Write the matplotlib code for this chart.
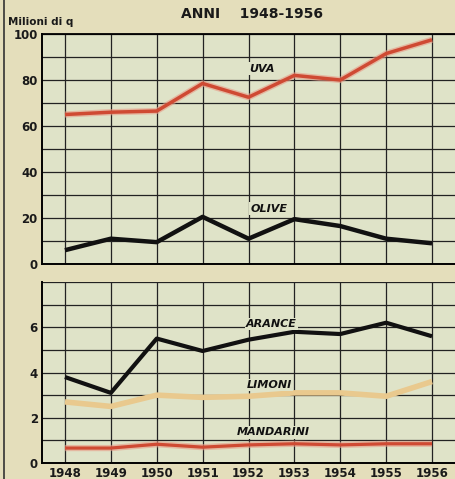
import matplotlib.pyplot as plt
from matplotlib.lines import Line2D

# Dati (milioni di quintali)
anni = [1948, 1949, 1950, 1951, 1952, 1953, 1954, 1955, 1956]
uva = [65, 66, 66.5, 78.5, 72.5, 82, 80, 91.5, 97.5]
olive = [6, 11, 9.5, 20.5, 11, 19.5, 16.5, 11, 9]
arance = [3.8, 3.1, 5.5, 4.95, 5.45, 5.8, 5.7, 6.2, 5.6]
limoni = [2.7, 2.5, 3.0, 2.9, 2.95, 3.1, 3.1, 2.95, 3.6]
mandarini = [0.66, 0.66, 0.83, 0.7, 0.8, 0.85, 0.8, 0.85, 0.85]

sfondo = '#e4debb'
carta = '#dfe3c8'

fig = plt.figure(figsize=(4.55, 4.79), dpi=100, facecolor=sfondo)
ax1 = fig.add_axes([42 / 455, 1 - 264 / 479, 1 - 42 / 455, 230 / 479])
ax2 = fig.add_axes([42 / 455, 1 - 463 / 479, 1 - 42 / 455, 181 / 479])

for ax in (ax1, ax2):
    ax.set_facecolor(carta)
    ax.set_xlim(1947.5, 1956.5)
    ax.set_xticks(anni)
    ax.grid(True, which='both', color='#222222', linewidth=0.9)
    ax.set_axisbelow(True)
    ax.tick_params(length=0, pad=3)
    for lato in ('top', 'right'):
        ax.spines[lato].set_visible(False)
    ax.spines['left'].set_linewidth(1.4)
    ax.spines['bottom'].set_linewidth(1.4)

ax1.set_ylim(0, 100)
ax1.set_yticks([0, 20, 40, 60, 80, 100])
ax1.set_yticks(range(10, 100, 20), minor=True)
ax1.tick_params(which='minor', length=0)
ax1.set_xticklabels([])
ax1.spines['top'].set_visible(True)
ax1.spines['top'].set_linewidth(1.3)

ax2.set_ylim(0, 8)
ax2.set_yticks([0, 2, 4, 6])
ax2.set_yticks([1, 3, 5, 7, 8], minor=True)
ax2.tick_params(which='minor', length=0)
ax2.set_xticklabels([str(a) for a in anni])

for ax in (ax1, ax2):
    for t in ax.get_yticklabels() + ax.get_xticklabels():
        t.set_fontweight('bold')
        t.set_fontsize(8.5)
        t.set_color('#1a1a1a')

# Serie
ax1.plot(anni, uva, color='#e89a86', linewidth=4.5, alpha=0.6, solid_capstyle='butt')
ax1.plot(anni, uva, color='#cf4a33', linewidth=2.5, solid_capstyle='butt')
ax1.plot(anni, olive, color='#111111', linewidth=3.2, solid_capstyle='butt')

ax2.plot(anni, arance, color='#111111', linewidth=3.0, solid_capstyle='butt')
ax2.plot(anni, limoni, color='#e9c98e', linewidth=4.0, solid_capstyle='butt')
ax2.plot(anni, mandarini, color='#e89a86', linewidth=4.5, alpha=0.6, solid_capstyle='butt')
ax2.plot(anni, mandarini, color='#cf4a33', linewidth=2.3, solid_capstyle='butt')

# Etichette delle serie
etichetta = dict(fontweight='bold', fontstyle='italic', fontsize=8, color='#111111',
                 ha='center', va='center')
box = dict(facecolor=carta, edgecolor='none', pad=1)
ax1.text(1952.3, 85, 'UVA', bbox=box, **etichetta)
ax1.text(1952.45, 24, 'OLIVE', bbox=box, **etichetta)
ax2.text(1952.5, 6.15, 'ARANCE', bbox=box, **etichetta)
ax2.text(1952.45, 3.45, 'LIMONI', bbox=box, **etichetta)
ax2.text(1952.55, 1.35, 'MANDARINI', bbox=box, **etichetta)

# Titoli
fig.text(252 / 455, 1 - 14 / 479, 'ANNI    1948-1956', ha='center', va='center',
         fontweight='bold', fontsize=10, color='#1a1a1a')
fig.text(8 / 455, 1 - 22 / 479, 'Milioni di q', ha='left', va='center',
         fontweight='bold', fontsize=7.5, color='#1a1a1a')

# bordo del foglio a sinistra
fig.add_artist(Line2D([3.5 / 455, 3.5 / 455], [0, 1], color='#333333', linewidth=1.2))

fig.savefig('out.png', dpi=100, facecolor=sfondo)
